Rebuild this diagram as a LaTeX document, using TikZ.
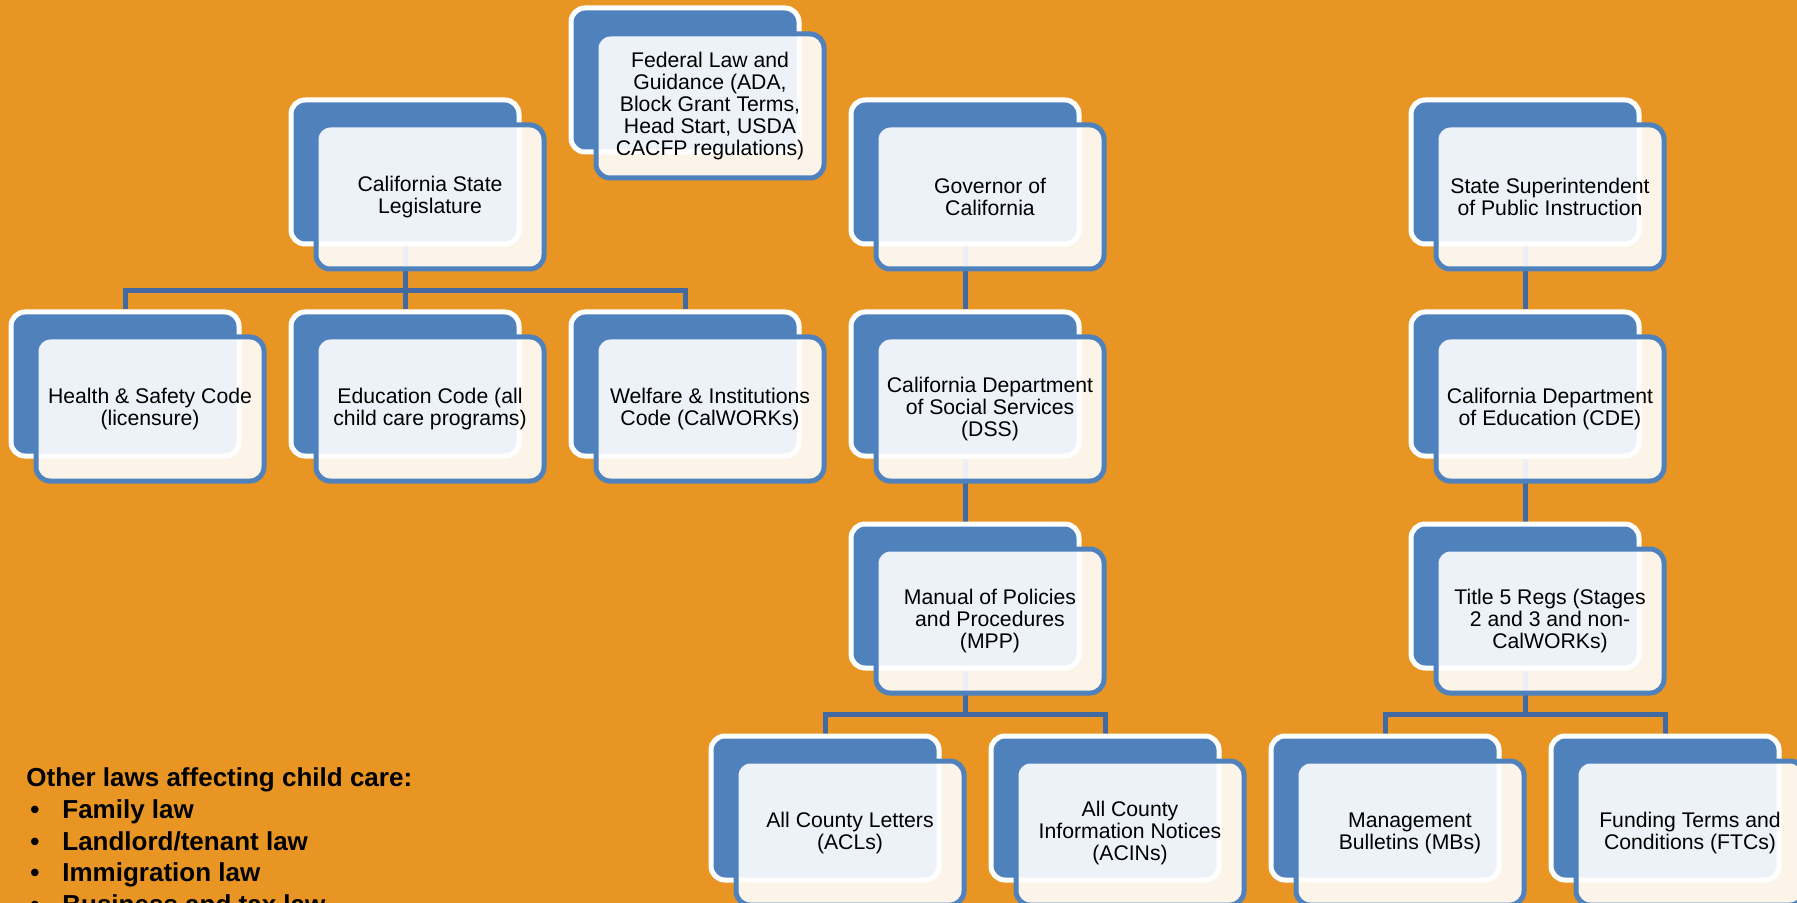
\documentclass[tikz,border=0pt]{standalone}
\usepackage{fontspec}
\setmainfont{Liberation Sans}
\usetikzlibrary{positioning,calc}
\definecolor{bgorange}{RGB}{232,149,36}
\definecolor{boxblue}{RGB}{79,129,189}
\definecolor{lineblue}{RGB}{66,106,160}
\tikzstyle{backbox} = [draw=white, fill=boxblue, line width=2.5pt, rounded corners=7pt, minimum width=114pt, minimum height=72pt, inner sep=0pt]
\tikzstyle{frontbox} = [draw=boxblue, fill=white, fill opacity=0.9, text opacity=1, line width=2.5pt, rounded corners=7pt, minimum width=114pt, minimum height=72pt, inner sep=0pt, align=center, font=\fontsize{10.6}{11}\selectfont]
\tikzstyle{conn} = [draw=lineblue, line width=2.5pt]
\tikzstyle{lawtext} = [anchor=base west, inner sep=0pt, font=\bfseries\fontsize{13}{16}\selectfont]
\pgfdeclarelayer{bg}
\pgfdeclarelayer{lines}
\pgfsetlayers{bg,lines,main}

\begin{document}
\begin{tikzpicture}[x=0.5pt, y=-0.5pt]
    \begin{pgfonlayer}{bg}
        \fill [bgorange] (0,0) rectangle (1797,903);
    \end{pgfonlayer}
    \useasboundingbox (0,0) rectangle (1797,903);

    % top row
    \node [backbox] (fed) at (685,80) {};
    \node [frontbox] (fed1) at (710,106) {Federal Law and\\Guidance (ADA,\\Block Grant Terms,\\Head Start, USDA\\CACFP regulations)};
    \node [backbox] (leg) at (405,172) {};
    \node [frontbox] (leg1) at (430,197) {California State\\Legislature};
    \node [backbox] (gov) at (965,172) {};
    \node [frontbox] (gov1) at (990,197) {Governor of\\California};
    \node [backbox] (supt) at (1525,172) {};
    \node [frontbox] (supt1) at (1550,197) {State Superintendent\\of Public Instruction};

    % codes and departments
    \node [backbox] (hsc) at (125,384) {};
    \node [frontbox] (hsc1) at (150,409) {Health \& Safety Code\\(licensure)};
    \node [backbox] (edc) at (405,384) {};
    \node [frontbox] (edc1) at (430,409) {Education Code (all\\child care programs)};
    \node [backbox] (wic) at (685,384) {};
    \node [frontbox] (wic1) at (710,409) {Welfare \& Institutions\\Code (CalWORKs)};
    \node [backbox] (dss) at (965,384) {};
    \node [frontbox] (dss1) at (990,409) {California Department\\of Social Services\\(DSS)};
    \node [backbox] (cde) at (1525,384) {};
    \node [frontbox] (cde1) at (1550,409) {California Department\\of Education (CDE)};

    % regulations
    \node [backbox] (mpp) at (965,596) {};
    \node [frontbox] (mpp1) at (990,621) {Manual of Policies\\and Procedures\\(MPP)};
    \node [backbox] (tfive) at (1525,596) {};
    \node [frontbox] (tfive1) at (1550,621) {Title 5 Regs (Stages\\2 and 3 and non-\\CalWORKs)};

    % notices
    \node [backbox] (acl) at (825,808) {};
    \node [frontbox] (acl1) at (850,833) {All County Letters\\(ACLs)};
    \node [backbox] (acin) at (1105,808) {};
    \node [frontbox] (acin1) at (1130,833) {All County\\Information Notices\\(ACINs)};
    \node [backbox] (mb) at (1385,808) {};
    \node [frontbox] (mb1) at (1410,833) {Management\\Bulletins (MBs)};
    \node [backbox] (ftc) at (1665,808) {};
    \node [frontbox] (ftc1) at (1690,833) {Funding Terms and\\Conditions (FTCs)};

    \coordinate (legfork) at ($(leg1.south)!0.5!(edc.north)$);
    \coordinate (mppfork) at ($(mpp1.south)!0.5!(acl.north)$);
    \coordinate (tfivefork) at ($(tfive1.south)!0.5!(mb.north)$);

    \begin{pgfonlayer}{lines}
        \draw [conn] (leg) -- (edc);
        \draw [conn] (leg |- legfork) -| (hsc);
        \draw [conn] (leg |- legfork) -| (wic);
        \draw [conn] (gov) -- (dss);
        \draw [conn] (dss) -- (mpp);
        \draw [conn] (mpp) -- (mpp |- mppfork) -| (acl);
        \draw [conn] (mpp |- mppfork) -| (acin);
        \draw [conn] (supt) -- (cde);
        \draw [conn] (cde) -- (tfive);
        \draw [conn] (tfive) -- (tfive |- tfivefork) -| (mb);
        \draw [conn] (tfive |- tfivefork) -| (ftc);
    \end{pgfonlayer}

    \node [lawtext] (other) at (26,786) {Other laws affecting child care:};
    \node [lawtext] (famlaw) at (30,818) {\makebox[16pt][l]{•}Family law};
    \node [lawtext] (landlaw) at (30,850) {\makebox[16pt][l]{•}Landlord/tenant law};
    \node [lawtext] (immlaw) at (30,881) {\makebox[16pt][l]{•}Immigration law};
    \node [lawtext] (buslaw) at (30,913) {\makebox[16pt][l]{•}Business and tax law};
\end{tikzpicture}
\end{document}
